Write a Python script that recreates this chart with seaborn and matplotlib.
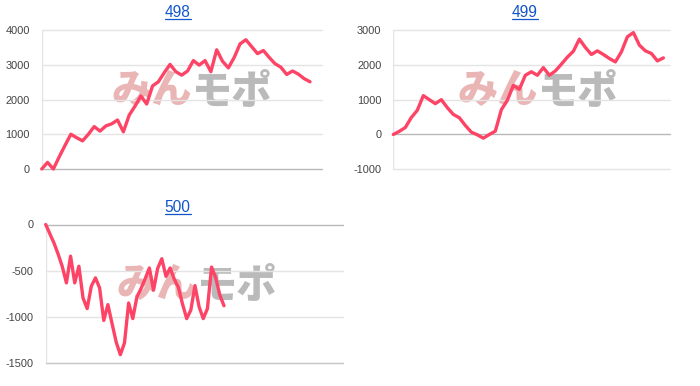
import matplotlib
matplotlib.use("Agg")
import matplotlib.pyplot as plt
from matplotlib.lines import Line2D
import seaborn as sns
import pandas as pd
import numpy as np

# ---- data ----
titles = ["498", "499", "500"]
series_498 = [0, 190, 0, 350, 680, 1000, 900, 810, 1000, 1220, 1090, 1240, 1300, 1410, 1070,
              1550, 1810, 2100, 1870, 2390, 2510, 2770, 3010, 2800, 2700, 2820, 3120, 2990,
              3120, 2800, 3430, 3100, 2910, 3210, 3600, 3720, 3520, 3320, 3410, 3210, 3030,
              2930, 2720, 2820, 2730, 2600, 2510]
series_499 = [0, 90, 200, 485, 695, 1115, 1000, 885, 1000, 770, 576, 481, 259, 67, -10,
              -106, 0, 96, 711, 980, 1410, 1297, 1700, 1800, 1700, 1920, 1700, 1825, 2017,
              2220, 2390, 2738, 2499, 2297, 2401, 2297, 2182, 2084, 2372, 2805, 2925, 2565,
              2401, 2326, 2113, 2199]
series_500 = [0, -100, -200, -320, -455, -631, -342, -631, -451, -793, -909, -667, -577, -685,
              -1037, -866, -1070, -1270, -1407, -1280, -848, -1017, -782, -692, -585, -470,
              -710, -475, -370, -560, -470, -590, -680, -860, -1017, -925, -660, -890, -1017,
              -910, -460, -575, -765, -878]
yticks_498 = [0, 1000, 2000, 3000, 4000]
yticks_499 = [-1000, 0, 1000, 2000, 3000]
yticks_500 = [-1500, -1000, -500, 0]
watermark_a = "みん"
watermark_b = "モポ"

W, H = 700, 386
sns.set_style("white")
plt.rcParams["font.family"] = ["Liberation Sans", "Noto Sans CJK JP", "DejaVu Sans"]

fig = plt.figure(figsize=(W / 100, H / 100), dpi=100)
fig.patch.set_facecolor("white")

LINE = "#fe4466"
GRID = "#e4e4e4"
BASE = "#b8b8b8"


def rect(l, r, t, b):
    return [l / W, 1 - b / H, (r - l) / W, (b - t) / H]


panels = [
    dict(title=titles[0], data=series_498, ticks=yticks_498, xmax=48.0,
         rect=rect(41.7, 321.7, 30, 169), tpos=(177.7, 16.7), wm=(192, 91)),
    dict(title=titles[1], data=series_499, ticks=yticks_499, xmax=46.1,
         rect=rect(393.3, 670, 30, 169.3), tpos=(525, 16.7), wm=(538, 91)),
    dict(title=titles[2], data=series_500, ticks=yticks_500, xmax=71.7,
         rect=rect(45.7, 343, 224.5, 363.3), tpos=(177.7, 211.7), wm=(197, 285)),
]

title_texts = []
for p in panels:
    ax = fig.add_axes(p["rect"])
    ax.set_facecolor("none")
    df = pd.DataFrame({"x": np.arange(len(p["data"])), "y": p["data"]})
    sns.lineplot(data=df, x="x", y="y", ax=ax, color=LINE, linewidth=2.4,
                 zorder=5, clip_on=False)
    ax.set_xlim(0, p["xmax"])
    ax.set_ylim(p["ticks"][0], p["ticks"][-1])
    ax.set_yticks(p["ticks"])
    ax.set_yticklabels([str(t) for t in p["ticks"]])
    ax.set_xticks([])
    ax.set_xlabel("")
    ax.set_ylabel("")
    for s in ax.spines.values():
        s.set_visible(False)
    ax.tick_params(axis="y", length=0, pad=8.5, labelsize=7.9, labelcolor="#444444")
    for t in p["ticks"]:
        col = BASE if t == 0 else GRID
        ax.axhline(t, color=col, lw=1, zorder=1, clip_on=False)
    if p is panels[2]:
        ax.axhline(p["ticks"][0], color="#c8c8c8", lw=1, zorder=1, clip_on=False)
    ax.axvline(0, color=GRID, lw=1, zorder=1)

    # watermark
    wx, wy = p["wm"]
    fig.text(wx / W, 1 - wy / H, watermark_a, ha="right", va="center",
             fontsize=29, fontweight="black", color="#eab5b5",
             family=["Noto Sans CJK JP", "DejaVu Sans"], zorder=-1)
    fig.text(wx / W, 1 - wy / H, watermark_b, ha="left", va="center",
             fontsize=29, fontweight="black", color="#bababa",
             family=["Noto Sans CJK JP", "DejaVu Sans"], zorder=-1)

    tx, ty = p["tpos"]
    tt = fig.text(tx / W, 1 - ty / H, p["title"], ha="center", va="baseline",
                  fontsize=11.2, color="#1155cc")
    title_texts.append((tt, ty))

fig.canvas.draw()
r = fig.canvas.get_renderer()
for tt, ty in title_texts:
    bb = tt.get_window_extent(renderer=r)
    yl = 1 - (ty + 2.6) / H
    fig.add_artist(Line2D([bb.x0 / W, bb.x1 / W], [yl, yl], color="#1155cc", lw=0.9,
                          transform=fig.transFigure))

fig.savefig("out.png", dpi=100, facecolor="white")
